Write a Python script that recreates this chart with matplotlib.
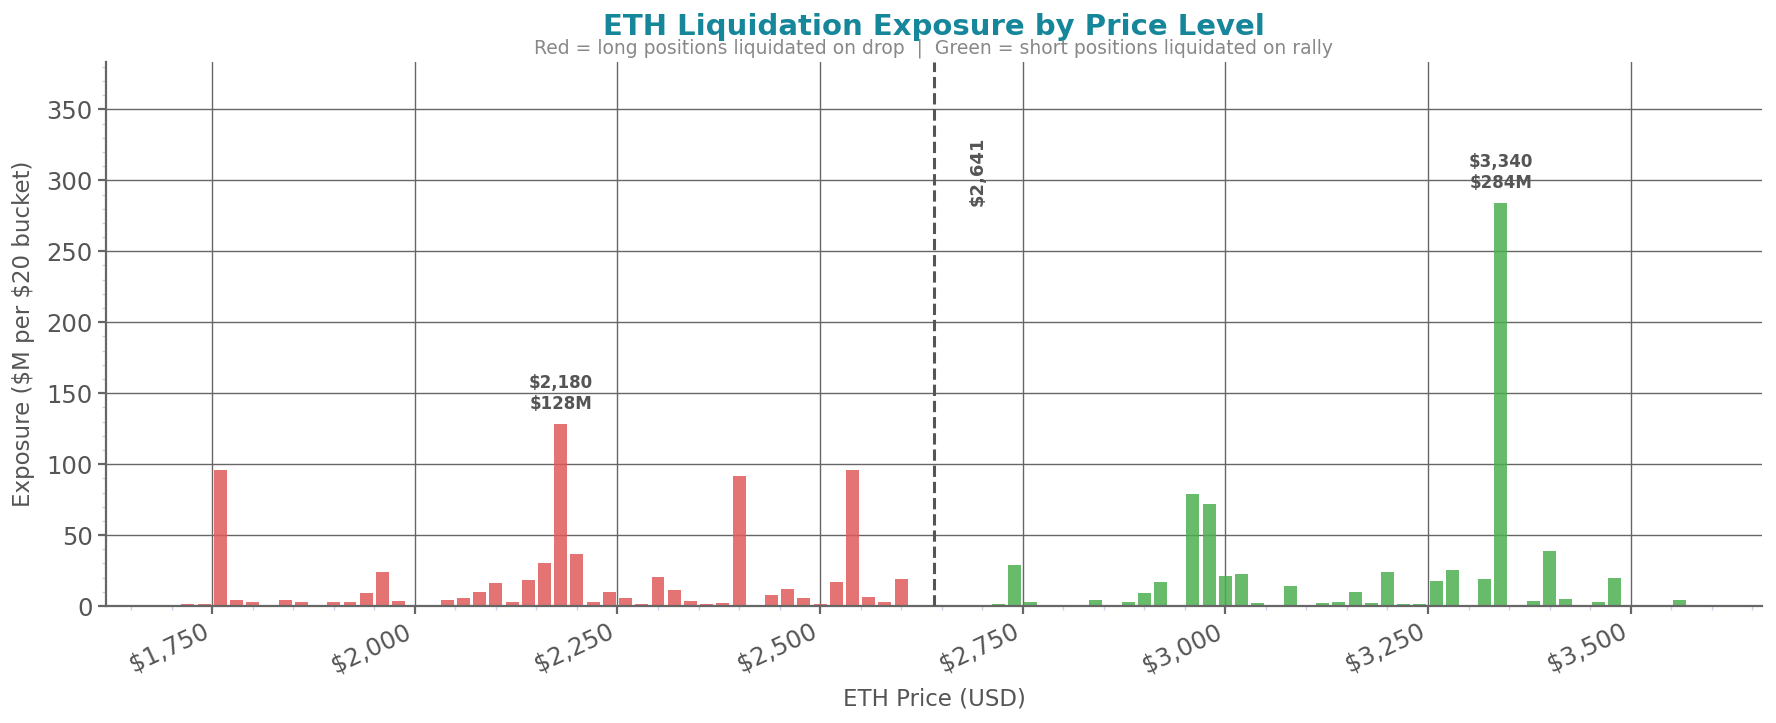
import numpy as np
import matplotlib
matplotlib.use("Agg")
import matplotlib.pyplot as plt
from matplotlib.ticker import FuncFormatter, MultipleLocator

# bucket centers ($20 buckets) and exposure in $M
long_prices = [1720, 1740, 1760, 1780, 1800, 1840, 1860, 1880, 1900, 1920,
               1940, 1960, 1980, 2020, 2040, 2060, 2080, 2100, 2120, 2140,
               2160, 2180, 2200, 2220, 2240, 2260, 2280, 2300, 2320, 2340,
               2360, 2380, 2400, 2440, 2460, 2480, 2500, 2520, 2540, 2560,
               2580, 2600, 2620]
long_vals = [1.2, 1.2, 96, 4.5, 3.1, 4.5, 3.1, 0.3, 3.1, 3.1,
             9.5, 23.8, 3.8, 1.0, 4.5, 6.0, 10.2, 16.0, 3.1, 18.1,
             30.2, 128, 36.7, 3.1, 10.2, 6.0, 1.7, 20.2, 11.0, 3.8,
             1.7, 2.4, 91.5, 8.1, 11.7, 6.0, 1.7, 16.7, 96, 6.7,
             3.1, 18.8, 0.3]

short_prices = [2720, 2740, 2760, 2780, 2800, 2820, 2840, 2860, 2880, 2900,
                2920, 2960, 2980, 3000, 3020, 3040, 3080, 3100, 3120, 3140,
                3160, 3180, 3200, 3220, 3240, 3260, 3280, 3320, 3340, 3380,
                3400, 3420, 3460, 3480, 3520, 3540, 3560]
short_vals = [1.7, 28.8, 3.1, 1.0, 1.0, 0.3, 4.5, 1.0, 3.1, 9.5,
              16.7, 78.8, 71.7, 21.0, 22.4, 2.4, 13.8, 1.0, 2.4, 3.1,
              10.2, 2.4, 23.8, 1.7, 1.7, 17.4, 25.2, 18.8, 284, 3.8,
              38.8, 5.2, 3.1, 19.5, 1.0, 0.3, 4.5]

current_price = 2641
bucket = 20

RED = "#e05a5a"
GREEN = "#4caf50"
TEXT = "#555555"

fig = plt.figure(figsize=(17.76, 7.23), dpi=100)
ax = fig.add_axes([0.0597, 0.1618, 0.9324, 0.7524])

ax.bar(long_prices, long_vals, width=bucket * 0.8, color=RED, alpha=0.85, zorder=2)
ax.bar(short_prices, short_vals, width=bucket * 0.8, color=GREEN, alpha=0.85, zorder=2)

ymax = max(max(long_vals), max(short_vals))
ax.set_ylim(0, ymax * 1.35)
ax.set_xlim(1619, 3662)

# current price marker
ax.axvline(current_price, color=TEXT, linestyle="--", linewidth=2.2, zorder=3)
ax.text(current_price * 1.02, ymax * 1.35 * 0.8, f"${current_price:,}",
        rotation=90, ha="center", va="center", fontsize=13,
        fontweight="bold", color=TEXT)

# label biggest bucket on each side
for prices, vals in [(long_prices, long_vals), (short_prices, short_vals)]:
    i = int(np.argmax(vals))
    ax.annotate(f"${prices[i]:,}\n${vals[i]:.0f}M", (prices[i], vals[i]),
                xytext=(0, 8), textcoords="offset points",
                ha="center", va="bottom", fontsize=12, fontweight="bold",
                color=TEXT)

ax.xaxis.set_major_locator(MultipleLocator(250))
ax.xaxis.set_minor_locator(MultipleLocator(50))
ax.yaxis.set_major_locator(MultipleLocator(50))
ax.yaxis.set_minor_locator(MultipleLocator(10))
ax.xaxis.set_major_formatter(FuncFormatter(lambda v, p: f"${v:,.0f}"))

ax.grid(True, which="major", color="#666666", linewidth=1.0, zorder=0)
ax.set_axisbelow(True)

for side in ["top", "right"]:
    ax.spines[side].set_visible(False)
for side in ["left", "bottom"]:
    ax.spines[side].set_color("#666666")
    ax.spines[side].set_linewidth(1.6)

ax.tick_params(which="major", length=6, width=1.6, color="#666666",
               labelsize=17.5, labelcolor=TEXT)
ax.tick_params(which="minor", length=3, width=1, color="#c8d2e6")
plt.setp(ax.get_xticklabels(), rotation=25, ha="right")

ax.set_xlabel("ETH Price (USD)", fontsize=16.5, color=TEXT, labelpad=8)
ax.set_ylabel(r"Exposure (\$M per \$20 bucket)", fontsize=16.5, color=TEXT, labelpad=8)

ax.text(0.5, 1.049, "ETH Liquidation Exposure by Price Level", transform=ax.transAxes,
        ha="center", va="baseline", fontsize=21, fontweight="bold", color="#16879b")
ax.text(0.5, 1.0165,
        "Red = long positions liquidated on drop  |  Green = short positions liquidated on rally",
        transform=ax.transAxes, ha="center", va="baseline", fontsize=13.5, color="#888888")

fig.savefig("out.png", dpi=100)
